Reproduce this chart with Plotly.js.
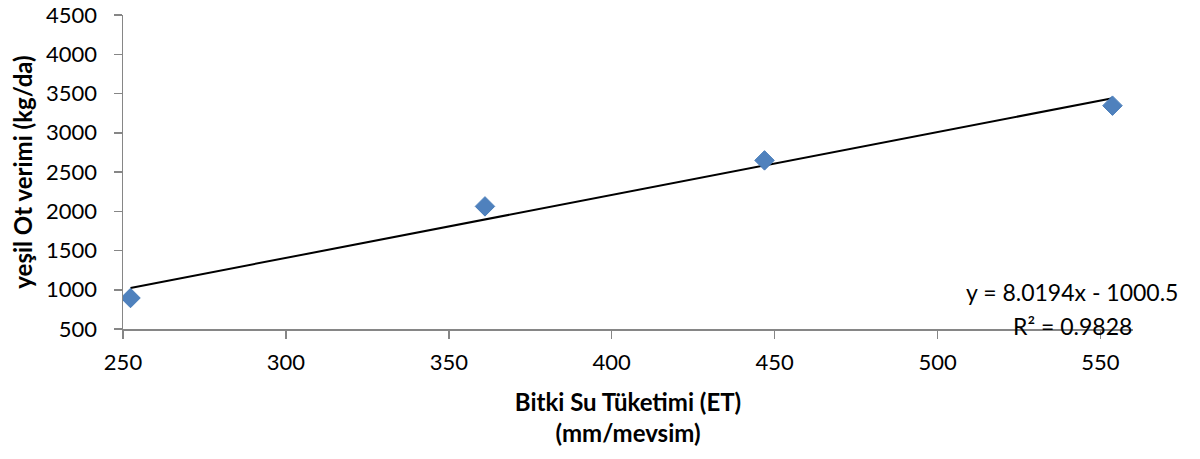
<!DOCTYPE html>
<html>
<head>
<meta charset="utf-8">
<script src="https://cdn.plot.ly/plotly-3.0.1.min.js"></script>
<style>html,body{margin:0;padding:0;background:#fff;}#chart{width:1200px;height:459px;}</style>
</head>
<body>
<div id="chart"></div>
<script>
// Data
const etValues = [252.3, 361.1, 446.9, 553.7];      // Bitki Su Tüketimi (mm/mevsim)
const yieldValues = [895, 2062, 2648, 3345];         // yeşil Ot verimi (kg/da)
const trendSlope = 8.0194;
const trendIntercept = -1000.5;
const rSquared = 0.9828;
const xTicks = [250, 300, 350, 400, 450, 500, 550];
const yTicks = [500, 1000, 1500, 2000, 2500, 3000, 3500, 4000, 4500];

const xMin = Math.min(...etValues), xMax = Math.max(...etValues);
const trendX = [xMin, xMax];
const trendY = trendX.map(x => trendSlope * x + trendIntercept);

const FONT = 'Lato, "Open Sans", sans-serif';
const axisColor = '#868686';

const traces = [
  {
    x: trendX, y: trendY, type: 'scatter', mode: 'lines',
    line: {color: '#000000', width: 2}, hoverinfo: 'skip', showlegend: false
  },
  {
    x: etValues, y: yieldValues, type: 'scatter', mode: 'markers',
    marker: {symbol: 'diamond', size: 15, color: '#4F81BD', line: {color: '#4A7EBB', width: 1}},
    showlegend: false
  }
];

const layout = {
  width: 1200, height: 459,
  margin: {l: 123, r: 67, t: 15, b: 130},
  paper_bgcolor: '#ffffff', plot_bgcolor: '#ffffff',
  font: {family: FONT, color: '#000000', size: 22},
  showlegend: false,
  xaxis: {
    range: [250, 560], tickvals: xTicks, ticktext: xTicks.map(String),
    showgrid: false, zeroline: false,
    showline: true, linecolor: axisColor, linewidth: 1.5,
    ticks: 'outside', ticklen: 8, tickcolor: axisColor, tickwidth: 1.5,
    ticklabelstandoff: 5,
    tickfont: {family: FONT, size: 22, color: '#000'},
    title: {text: '<b>Bitki Su Tüketimi (ET)</b><br><b>(mm/mevsim)</b>', font: {family: FONT, size: 24, color: '#000'}, standoff: 20}
  },
  yaxis: {
    range: [500, 4500], tickvals: yTicks, ticktext: yTicks.map(String),
    showgrid: false, zeroline: false,
    showline: true, linecolor: axisColor, linewidth: 1.5,
    ticks: 'outside', ticklen: 8, tickcolor: axisColor, tickwidth: 1.5,
    ticklabelstandoff: 12,
    tickfont: {family: FONT, size: 22, color: '#000'},
    title: {text: '<b>yeşil Ot verimi (kg/da)</b>', font: {family: FONT, size: 24, color: '#000'}, standoff: 6}
  },
  annotations: [
    {
      xref: 'paper', yref: 'paper', x: 0.94, y: 0.1187,
      xanchor: 'center', yanchor: 'middle', align: 'center', showarrow: false,
      text: 'y = ' + trendSlope.toFixed(4) + 'x - ' + Math.abs(trendIntercept).toFixed(1),
      font: {family: FONT, size: 23, color: '#000'}
    },
    {
      xref: 'paper', yref: 'paper', x: 0.94, y: 0.0105,
      xanchor: 'center', yanchor: 'middle', align: 'center', showarrow: false,
      text: 'R² = ' + rSquared.toFixed(4),
      font: {family: FONT, size: 23, color: '#000'}
    }
  ]
};

Plotly.newPlot('chart', traces, layout, {displayModeBar: false, staticPlot: true});
</script>
</body>
</html>
